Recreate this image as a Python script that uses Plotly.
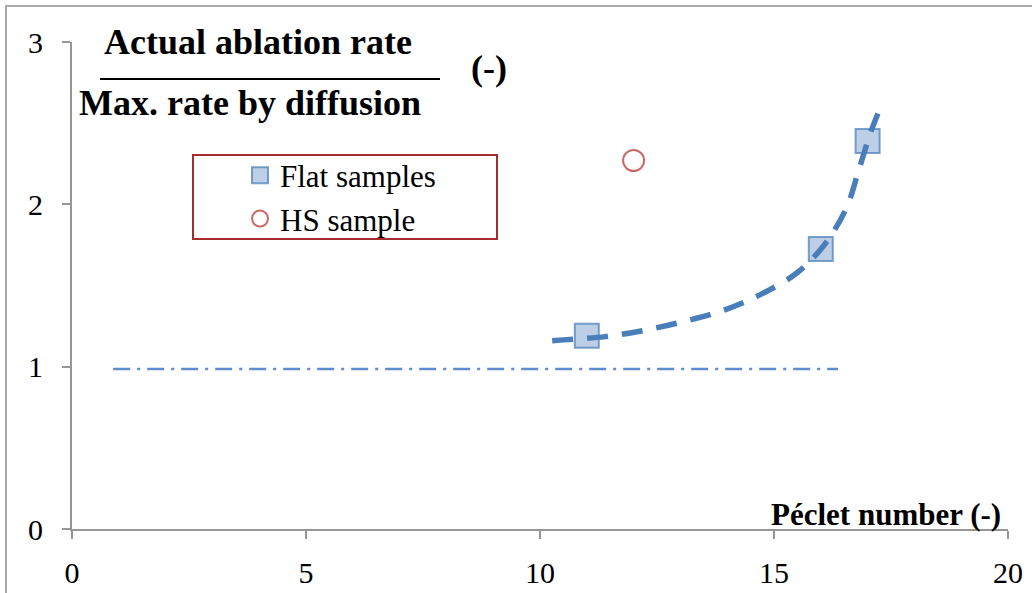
import plotly.graph_objects as go

# Data
flat_x = [11, 16, 17]
flat_y = [1.19, 1.725, 2.39]
hs_x = [12]
hs_y = [2.27]
trend_x = [10.26, 10.5, 11.4, 12.25, 13.1, 13.95, 14.75, 15.5, 16.1, 16.55, 16.8, 17.05, 17.22]
trend_y = [1.16, 1.165, 1.185, 1.225, 1.28, 1.35, 1.45, 1.58, 1.76, 1.98, 2.2, 2.43, 2.56]
ref_x = [0.88, 16.37]
ref_y = [0.985, 0.985]
x_ticks = [0, 5, 10, 15, 20]
y_ticks = [0, 1, 2, 3]

SERIF = "Liberation Serif, Times New Roman, serif"
BLUE = "rgb(74,126,187)"
AXIS = "rgb(150,150,150)"

fig = go.Figure()
fig.add_trace(go.Scatter(
    x=flat_x, y=flat_y, mode="markers", name="Flat samples",
    marker=dict(symbol="square", size=24, color="rgba(79,129,189,0.38)",
                line=dict(color="rgba(79,129,189,0.75)", width=2)),
))
fig.add_trace(go.Scatter(
    x=hs_x, y=hs_y, mode="markers", name="HS sample",
    marker=dict(symbol="circle-open", size=21, color="rgba(192,80,77,0.85)",
                line=dict(color="rgba(192,80,77,0.85)", width=2)),
))
fig.add_trace(go.Scatter(
    x=trend_x, y=trend_y, mode="lines", showlegend=False,
    line=dict(color=BLUE, width=5.5, dash="21px,14px", shape="spline", smoothing=1.0),
))
fig.add_trace(go.Scatter(
    x=ref_x, y=ref_y, mode="lines", showlegend=False,
    line=dict(color="rgb(95,140,205)", width=2.5, dash="17px,7px,3px,7px"),
))

fig.update_layout(
    width=1032, height=593,
    margin=dict(l=72, r=24, t=42, b=64),
    paper_bgcolor="white", plot_bgcolor="white",
    font=dict(family=SERIF, color="black"),
    xaxis=dict(range=[0, 20], tickvals=x_ticks, showgrid=False, zeroline=False,
               showline=True, linecolor=AXIS, linewidth=2, automargin=False,
               ticks="outside", ticklen=8, tickcolor=AXIS, tickwidth=2,
               tickfont=dict(family=SERIF, size=30, color="black"),
               ticklabelstandoff=8),
    yaxis=dict(range=[0, 3], tickvals=y_ticks, showgrid=False, zeroline=False,
               showline=True, linecolor=AXIS, linewidth=2, automargin=False,
               ticks="outside", ticklen=8, tickcolor=AXIS, tickwidth=2,
               tickfont=dict(family=SERIF, size=30, color="black"),
               ticklabelstandoff=13),
    legend=dict(x=0.1795, y=0.781, xanchor="left", yanchor="top",
                bgcolor="rgba(0,0,0,0)", borderwidth=0,
                font=dict(family=SERIF, size=31, color="black")),
    showlegend=True,
)

# outer frame, legend box, fraction bar
fig.add_shape(type="rect", xref="paper", yref="paper",
              x0=-0.0705, x1=1.04, y0=-0.16, y1=1.074,
              line=dict(color="rgb(170,170,170)", width=2), layer="below")
fig.add_shape(type="rect", xref="paper", yref="paper",
              x0=(193 - 72) / 936, x1=(497 - 72) / 936,
              y0=(529 - 239) / 487, y1=(529 - 155) / 487,
              line=dict(color="rgb(165,45,45)", width=2))
fig.add_shape(type="line", xref="paper", yref="paper",
              x0=(100 - 72) / 936, x1=(440 - 72) / 936,
              y0=(529 - 79) / 487, y1=(529 - 79) / 487,
              line=dict(color="black", width=2))

bold = dict(family=SERIF, size=36, color="black")
fig.add_annotation(text="<b>Actual ablation rate</b>", xref="paper", yref="paper",
                   x=(258 - 72) / 936, y=(529 - 42) / 487, xanchor="center", yanchor="middle",
                   showarrow=False, font=bold)
fig.add_annotation(text="<b>Max. rate by diffusion</b>", xref="paper", yref="paper",
                   x=(250 - 72) / 936, y=(529 - 103) / 487, xanchor="center", yanchor="middle",
                   showarrow=False, font=bold)
fig.add_annotation(text="<b>(-)</b>", xref="paper", yref="paper",
                   x=(489 - 72) / 936, y=(529 - 68) / 487, xanchor="center", yanchor="middle",
                   showarrow=False, font=bold)
fig.add_annotation(text="<b>Péclet number (-)</b>", xref="paper", yref="paper",
                   x=(1003 - 72) / 936, y=(529 - 514) / 487, xanchor="right", yanchor="middle",
                   showarrow=False, font=dict(family=SERIF, size=31, color="black"))

fig.write_html("out.html", config={"displayModeBar": False},
               post_script="document.body.style.margin='0px';")
